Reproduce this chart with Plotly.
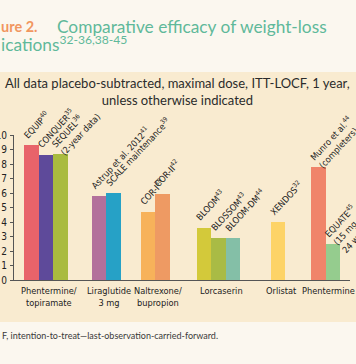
import math
import plotly.graph_objects as go

# ---------------- data ----------------
groups = ["Phentermine/<br>topiramate", "Liraglutide<br>3 mg", "Naltrexone/<br>bupropion",
          "Lorcaserin", "Orlistat", "Phentermine"]
studies = ["EQUIP<sup>40</sup>", "CONQUER<sup>35</sup>", "SEQUEL<sup>36</sup><br>(2-year data)",
           "Astrup et al. 2012<sup>41</sup>", "SCALE maintenance<sup>39</sup>",
           "COR-I<sup>38</sup>", "COR-II<sup>42</sup>",
           "BLOOM<sup>43</sup>", "BLOSSOM<sup>43</sup>", "BLOOM-DM<sup>44</sup>",
           "XENDOS<sup>32</sup>",
           "Munro et al.<sup>44</sup><br>(completers)", "EQUATE<sup>45</sup><br>(15 mg,<br>24 weeks)"]
study_group = [0, 0, 0, 1, 1, 2, 2, 3, 3, 3, 4, 5, 5]
values = [9.3, 8.6, 8.7, 5.8, 6.0, 4.7, 5.9, 3.6, 2.9, 2.9, 4.0, 7.8, 2.5]
colors = ["#e8636a", "#5e4a9a", "#a9bb3f", "#b3709b", "#26a1c6", "#f7b25a", "#ee9a63",
          "#d3c93a", "#a9bb45", "#84bfa7", "#fdd367", "#f0846a", "#95cc8e"]
y_ticks = [0, 1, 2, 3, 4, 5, 6, 7, 8, 9, 10]

title_a = "ure 2."
title_b = "Comparative efficacy of weight-loss"
title_c = "ications<sup>32-36,38-45</sup>"
subtitle = "All data placebo-subtracted, maximal dose, ITT-LOCF, 1 year,<br>unless otherwise indicated"
footnote = "F, intention-to-treat\u2014last-observation-carried-forward."

# ---------------- layout constants ----------------
W, H = 356, 364
ML, MR, MT, MB = 14, 6, 135, 84
PW, PH = W - ML - MR, H - MT - MB
first_center = 1.2
group_gaps = [2.66, 2.38, 2.87, 3.1, 2.8]  # spacing between groups (bar-width units)

xs = []
for i, g in enumerate(study_group):
    if i == 0:
        xs.append(first_center)
    elif g == study_group[i - 1]:
        xs.append(xs[-1] + 1)
    else:
        xs.append(xs[-1] + group_gaps[g - 1])

def pxx(px):
    return (px - ML) / PW

def pxy(py):
    return (H - MB - py) / PH

LABEL_FONT = "Liberation Sans Narrow, DejaVu Sans Condensed, Arial Narrow, sans-serif"
HEAD_FONT = "Lato, Noto Sans, sans-serif"

fig = go.Figure()
fig.add_trace(go.Bar(x=xs, y=values, width=1.0, marker=dict(color=colors, line=dict(width=0)),
                     hoverinfo="skip", showlegend=False))

ann = []
L = 11.7
ang = 47
s, c = math.sin(math.radians(ang)), math.cos(math.radians(ang))
for x, v, t in zip(xs, values, studies):
    n = t.count("<br>") + 1
    ann.append(dict(x=x - 0.5, y=v, xref="x", yref="y", text=t, showarrow=False,
                    textangle=-ang, xanchor="left", yanchor="bottom", align="left",
                    xshift=2 - L * s, yshift=2 - (n - 1) * L * c,
                    font=dict(family=LABEL_FONT, size=9, color="#222222")))

for gi, g in enumerate(groups):
    gx = [x for x, sg in zip(xs, study_group) if sg == gi]
    ann.append(dict(x=(min(gx) + max(gx)) / 2, y=0, xref="x", yref="paper", text=g,
                    showarrow=False, xanchor="center", yanchor="top", yshift=-3, xshift=3,
                    font=dict(family=LABEL_FONT, size=9.2, color="#222222")))

ann.append(dict(x=pxx(-1), y=pxy(26), xref="paper", yref="paper", text="<b>" + title_a + "</b>",
                showarrow=False, xanchor="left", yanchor="middle",
                font=dict(family=HEAD_FONT, size=14.5, color="#f19660")))
ann.append(dict(x=pxx(55), y=pxy(26), xref="paper", yref="paper", text=title_b,
                showarrow=False, xanchor="left", yanchor="middle",
                font=dict(family=HEAD_FONT, size=17.3, color="#5fb99a")))
ann.append(dict(x=pxx(-1), y=pxy(43), xref="paper", yref="paper", text=title_c,
                showarrow=False, xanchor="left", yanchor="middle",
                font=dict(family=HEAD_FONT, size=17.3, color="#5fb99a")))
ann.append(dict(x=pxx(177), y=pxy(91), xref="paper", yref="paper", text=subtitle,
                showarrow=False, xanchor="center", yanchor="middle",
                font=dict(family=HEAD_FONT, size=13, color="#2b2b2b")))
ann.append(dict(x=pxx(0), y=pxy(335), xref="paper", yref="paper", text=footnote,
                showarrow=False, xanchor="left", yanchor="middle",
                font=dict(family=HEAD_FONT, size=9, color="#3a3a3a")))

fig.update_layout(
    width=W, height=H, margin=dict(l=ML, r=MR, t=MT, b=MB, pad=0, autoexpand=False),
    paper_bgcolor="#fbf7ef", plot_bgcolor="rgba(0,0,0,0)",
    annotations=ann, bargap=0,
    shapes=[dict(type="rect", xref="paper", yref="paper", x0=pxx(-5), x1=pxx(W + 5),
                 y0=pxy(322), y1=pxy(72), fillcolor="#f9ebd0", line=dict(width=0), layer="below")],
    xaxis=dict(range=[0, PW / 14.5], showgrid=False, zeroline=False, showline=True, automargin=False,
               linecolor="#555555", linewidth=1.2, showticklabels=False, ticks=""),
    yaxis=dict(range=[0, 10], tickvals=y_ticks, showgrid=False, zeroline=False, showline=True,
               automargin=False, ticklabelstandoff=1,
               linecolor="#555555", linewidth=1.2, ticks="outside", ticklen=3, tickcolor="#555555",
               tickfont=dict(family=LABEL_FONT, size=10, color="#222222")),
)

fig.write_html("out.html", config={"displayModeBar": False},
               post_script="document.body.style.margin='0';document.body.style.overflow='hidden';")
